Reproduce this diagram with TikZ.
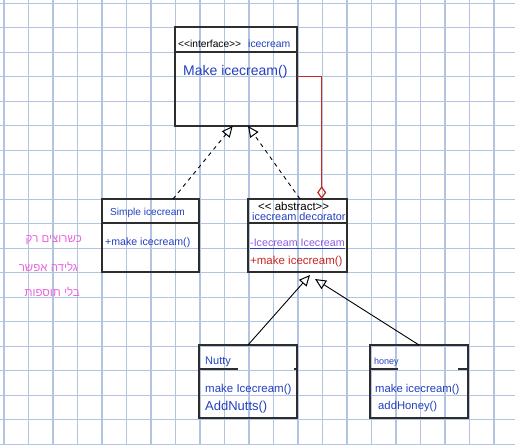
\documentclass[tikz,border=0pt]{standalone}
\usepackage{fontspec}
\setmainfont{Liberation Sans}
\newfontfamily\hebfont[Script=Hebrew]{Liberation Sans}
\TeXXeTstate=1
\usetikzlibrary{arrows.meta,calc}
\definecolor{gridc}{RGB}{178,196,226}
\definecolor{hblue}{RGB}{35,65,190}
\definecolor{hred}{RGB}{200,40,30}
\definecolor{hpurple}{RGB}{140,90,230}
\definecolor{hpink}{RGB}{235,100,220}
\definecolor{boxc}{RGB}{45,45,45}
\newcommand\myfs[1]{\fontsize{#1}{#1}\selectfont}
\tikzset{
  gridline/.style={draw=gridc, line width=1.2pt},
  umlbox/.style={draw=boxc, line width=1.3pt, inner sep=0pt, outer sep=0pt, fill=none},
  sepline/.style={draw=boxc, line width=1.3pt},
  txt/.style={inner sep=0pt, anchor=west},
  heb/.style={inner sep=0pt, anchor=east, text=hpink, font=\hebfont\myfs{11.5}},
  realize/.style={dashed, dash pattern=on 4pt off 4pt, line width=0.9pt, -{Triangle[open, length=11pt, width=10pt, line width=1pt]}},
  inherit/.style={line width=0.9pt, -{Triangle[open, length=11pt, width=10pt, line width=1pt]}},
  aggr/.style={draw=hred, line width=1.5pt, -{Diamond[open, length=13pt, width=9pt, line width=1.2pt]}}
}
\begin{document}
\begin{tikzpicture}[x=1pt,y=-1pt]
\useasboundingbox (0,0) rectangle (515,445);
\fill[white] (0,0) rectangle (515,445);
\foreach \k in {0,...,21} \draw[gridline] ({4+24.5*\k},0) -- ({4+24.5*\k},445);
\foreach \k in {0,...,18} \draw[gridline] (0,{3.3+24.5*\k}) -- (515,{3.3+24.5*\k});

% boxes
\node[umlbox, minimum width=122pt, minimum height=99pt] (iface) at (236,76.5) {};
\node[umlbox, minimum width=97pt, minimum height=73pt] (simple) at (150.5,235.5) {};
\node[umlbox, minimum width=99pt, minimum height=73pt] (deco) at (297.5,235.5) {};
\node[umlbox, minimum width=98pt, minimum height=73pt] (nutty) at (248,381.5) {};
\node[umlbox, minimum width=98pt, minimum height=73pt] (honey) at (419,381.5) {};

% separator lines
\draw[sepline] ($(iface.north west)+(0,25)$) -- ($(iface.north east)+(0,25)$);
\draw[sepline] ($(simple.north west)+(0,24)$) -- ($(simple.north east)+(0,24)$);
\draw[sepline] ($(deco.north west)+(0,24)$) -- ($(deco.north east)+(0,24)$);
\draw[sepline] ($(nutty.north west)+(0,24)$) -- ($(nutty.north west)+(39,24)$);
\draw[sepline] ($(nutty.north east)+(-3,24)$) -- ($(nutty.north east)+(0,24)$);
\draw[sepline] ($(honey.north west)+(0,24)$) -- ($(honey.north west)+(28,24)$);
\draw[sepline] ($(honey.north east)+(-10,24)$) -- ($(honey.north east)+(0,24)$);

% texts
\node[txt, font=\myfs{10.2}] (t1) at (178,44) {<{}<interface>{}>};
\node[txt, font=\myfs{10.4}, text=hblue] (t2) at (248,44) {icecream};
\node[txt, font=\myfs{14}, text=hblue] (t3) at (183,72) {Make icecream()};
\node[txt, font=\myfs{10.1}, text=hblue] (t4) at (110,213) {Simple icecream};
\node[txt, font=\myfs{10.6}, text=hblue] (t5) at (105,243) {+make icecream()};
\node[txt, font=\myfs{11.5}] (t6) at (258,206) {<{}< abstract>{}>};
\node[txt, font=\myfs{10.9}, text=hblue] (t7) at (252,217) {icecream decorator};
\node[txt, font=\myfs{10.7}, text=hpurple] (t8) at (250,243) {-Icecream Icecream};
\draw[draw=hblue, line width=0.8pt] ($(t8.south west)+(0,1.5)$) -- ($(t8.south east)+(0,1.5)$);
\node[txt, font=\myfs{11.5}, text=hred] (t9) at (250,262) {+make icecream()};
\node[txt, font=\myfs{11}, text=hblue] (t10) at (205,362) {Nutty};
\node[txt, font=\myfs{11.5}, text=hblue] (t11) at (205,390) {make Icecream()};
\node[txt, font=\myfs{13}, text=hblue] (t12) at (205,407) {AddNutts()};
\node[txt, font=\myfs{9}, text=hblue] (t13) at (374,362) {honey};
\node[txt, font=\myfs{11.3}, text=hblue] (t14) at (375,390) {make icecream()};
\node[txt, font=\myfs{11.3}, text=hblue] (t15) at (378,407) {addHoney()};

% hebrew note
\node[heb] (h1) at (82,240) {\beginR כשרוצים רק\endR};
\node[heb] (h2) at (78,267) {\beginR גלידה אפשר\endR};
\node[heb] (h3) at (80,292) {\beginR בלי תוספות\endR};

% connector end points
\coordinate (sA) at ($(simple.north west)+(71,0)$);
\coordinate (iA) at ($(iface.south west)+(57.7,0)$);
\coordinate (dA) at ($(deco.north west)+(52,0)$);
\coordinate (iB) at ($(iface.south west)+(73,0)$);
\coordinate (dR) at ($(deco.north west)+(73.7,0)$);
\coordinate (cR) at (dR |- iface.east);
\coordinate (dN) at ($(deco.south west)+(62,3)$);
\coordinate (dH) at ($(deco.south west)+(67,7)$);

\draw[realize] (sA) -- (iA);
\draw[realize] (dA) -- (iB);
\draw[aggr] (iface.east) -- (cR) -- (dR);
\draw[inherit] (nutty.north) -- (dN);
\draw[inherit] (honey.north) -- (dH);
\end{tikzpicture}
\end{document}
